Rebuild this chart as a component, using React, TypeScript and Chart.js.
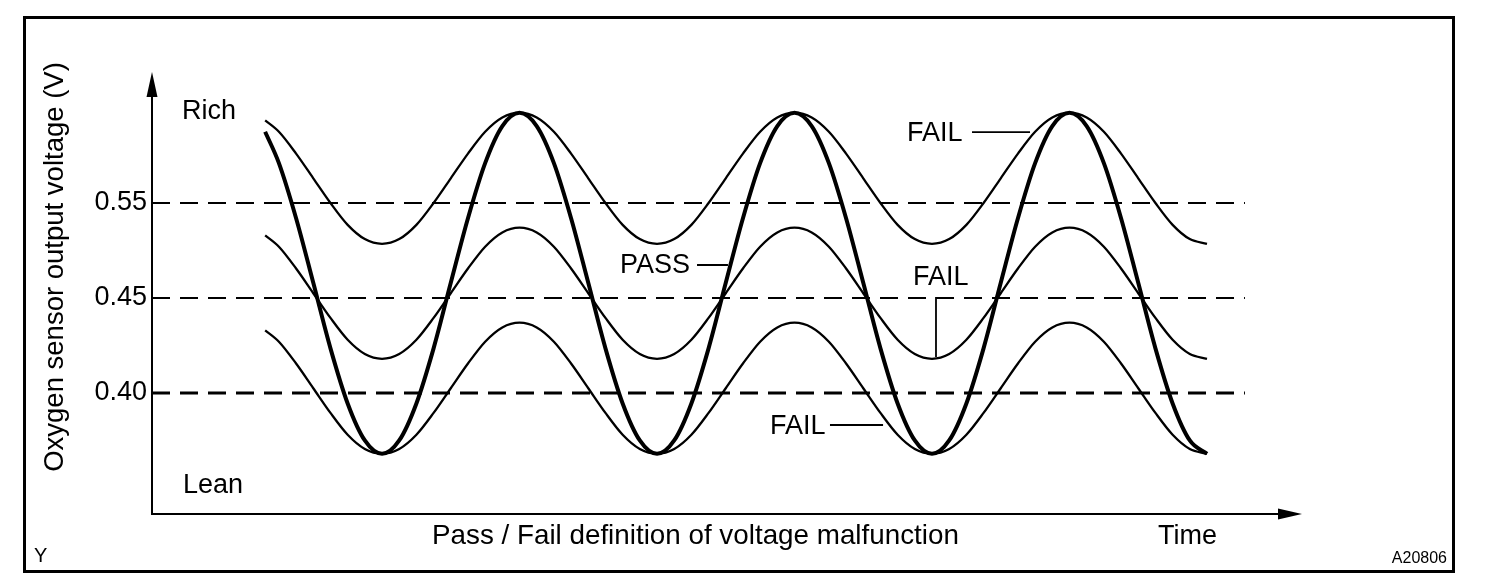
import React, { useEffect, useRef } from 'react';
import { Chart, registerables } from 'chart.js';

Chart.register(...registerables);

// Time axis in half-periods (0 = first lean trough)
const time = [
  -0.85, -0.75, -0.625, -0.5, -0.375, -0.25, -0.125, 0,
  0.125, 0.25, 0.375, 0.5, 0.625, 0.75, 0.875, 1, 1.125, 1.25, 1.375, 1.5, 1.625, 1.75, 1.875, 2,
  2.125, 2.25, 2.375, 2.5, 2.625, 2.75, 2.875, 3, 3.125, 3.25, 3.375, 3.5, 3.625, 3.75, 3.875, 4,
  4.125, 4.25, 4.375, 4.5, 4.625, 4.75, 4.875, 5, 5.125, 5.25, 5.375, 5.5, 5.625, 5.75, 5.875, 6,
];

// Sensor output, in axis "levels" (1 = 0.40 V, 2 = 0.45 V, 3 = 0.55 V)
const passCurve = [
  3.75, 3.42, 2.84, 2.16, 1.47, 0.89, 0.5, 0.36,
  0.5, 0.89, 1.47, 2.16, 2.84, 3.42, 3.81, 3.95, 3.81, 3.42, 2.84, 2.16, 1.47, 0.89, 0.5, 0.36,
  0.5, 0.89, 1.47, 2.16, 2.84, 3.42, 3.81, 3.95, 3.81, 3.42, 2.84, 2.16, 1.47, 0.89, 0.5, 0.36,
  0.5, 0.89, 1.47, 2.16, 2.84, 3.42, 3.81, 3.95, 3.81, 3.42, 2.84, 2.16, 1.47, 0.89, 0.5, 0.36,
];
const failRichCurve = [
  3.87, 3.75, 3.52, 3.26, 3.0, 2.77, 2.62, 2.57,
  2.62, 2.77, 3.0, 3.26, 3.52, 3.75, 3.9, 3.95, 3.9, 3.75, 3.52, 3.26, 3.0, 2.77, 2.62, 2.57,
  2.62, 2.77, 3.0, 3.26, 3.52, 3.75, 3.9, 3.95, 3.9, 3.75, 3.52, 3.26, 3.0, 2.77, 2.62, 2.57,
  2.62, 2.77, 3.0, 3.26, 3.52, 3.75, 3.9, 3.95, 3.9, 3.75, 3.52, 3.26, 3.0, 2.77, 2.62, 2.57,
];
const failMidCurve = [
  2.66, 2.54, 2.31, 2.05, 1.79, 1.56, 1.41, 1.36,
  1.41, 1.56, 1.79, 2.05, 2.31, 2.54, 2.69, 2.74, 2.69, 2.54, 2.31, 2.05, 1.79, 1.56, 1.41, 1.36,
  1.41, 1.56, 1.79, 2.05, 2.31, 2.54, 2.69, 2.74, 2.69, 2.54, 2.31, 2.05, 1.79, 1.56, 1.41, 1.36,
  1.41, 1.56, 1.79, 2.05, 2.31, 2.54, 2.69, 2.74, 2.69, 2.54, 2.31, 2.05, 1.79, 1.56, 1.41, 1.36,
];
const failLeanCurve = [
  1.66, 1.54, 1.31, 1.05, 0.79, 0.56, 0.41, 0.36,
  0.41, 0.56, 0.79, 1.05, 1.31, 1.54, 1.69, 1.74, 1.69, 1.54, 1.31, 1.05, 0.79, 0.56, 0.41, 0.36,
  0.41, 0.56, 0.79, 1.05, 1.31, 1.54, 1.69, 1.74, 1.69, 1.54, 1.31, 1.05, 0.79, 0.56, 0.41, 0.36,
  0.41, 0.56, 0.79, 1.05, 1.31, 1.54, 1.69, 1.74, 1.69, 1.54, 1.31, 1.05, 0.79, 0.56, 0.41, 0.36,
];

// Y tick levels and their voltage labels
const yTickLevels = [1, 2, 3];
const yTickLabels = ['0.40', '0.45', '0.55'];

// Threshold dashed lines span (time units)
const thresholdStart = -1.673;
const thresholdEnd = 6.276;

const yAxisTitle = 'Oxygen sensor output voltage (V)';
const xAxisTitle = 'Pass / Fail definition of voltage malfunction';

const FONT = '"Liberation Sans", Arial, Helvetica, sans-serif';

const decorPlugin = {
  id: 'decor',
  afterDraw(chart: any) {
    const { ctx, chartArea: a, scales } = chart;
    const xs = scales.x;
    const ys = scales.y;
    const px = (t: number) => xs.getPixelForValue(t);
    const py = (v: number) => ys.getPixelForValue(v);
    ctx.save();
    ctx.strokeStyle = '#000';
    ctx.fillStyle = '#000';

    // outer frame
    ctx.lineWidth = 3;
    ctx.strokeRect(24.5, 17.5, 1429, 554);

    // axes
    ctx.lineWidth = 2;
    ctx.beginPath();
    ctx.moveTo(a.left, a.top + 20);
    ctx.lineTo(a.left, a.bottom);
    ctx.lineTo(a.right - 20, a.bottom);
    ctx.stroke();
    // arrow heads
    ctx.beginPath();
    ctx.moveTo(a.left, a.top);
    ctx.lineTo(a.left - 5.5, a.top + 25);
    ctx.lineTo(a.left + 5.5, a.top + 25);
    ctx.closePath();
    ctx.fill();
    ctx.beginPath();
    ctx.moveTo(a.right, a.bottom);
    ctx.lineTo(a.right - 24, a.bottom - 5.5);
    ctx.lineTo(a.right - 24, a.bottom + 5.5);
    ctx.closePath();
    ctx.fill();

    // texts
    ctx.font = `27px ${FONT}`;
    ctx.textBaseline = 'alphabetic';
    ctx.textAlign = 'left';
    ctx.fillText('Rich', px(-1.4545), py(3.884));
    ctx.fillText('Lean', px(-1.447), py(-0.053));
    ctx.fillText('FAIL', px(3.818), py(3.653));
    ctx.fillText('PASS', px(1.731), py(2.263));
    ctx.fillText('FAIL', px(3.862), py(2.137));
    ctx.fillText('FAIL', px(2.822), py(0.568));
    ctx.fillText('Time', 1158, 544);

    ctx.font = `27.8px ${FONT}`;
    ctx.fillText(xAxisTitle, 432, 544);

    // leader lines
    ctx.lineWidth = 1.8;
    ctx.beginPath();
    ctx.moveTo(px(4.291), py(3.747));
    ctx.lineTo(px(4.713), py(3.747));
    ctx.moveTo(px(2.291), py(2.347));
    ctx.lineTo(px(2.516), py(2.347));
    ctx.moveTo(px(4.029), py(2.011));
    ctx.lineTo(px(4.029), py(1.379));
    ctx.moveTo(px(3.258), py(0.663));
    ctx.lineTo(px(3.644), py(0.663));
    ctx.stroke();

    // y axis title
    ctx.save();
    ctx.translate(63, 267);
    ctx.rotate(-Math.PI / 2);
    ctx.textAlign = 'center';
    ctx.font = `27.5px ${FONT}`;
    ctx.fillText(yAxisTitle, 0, 0);
    ctx.restore();

    // corner marks
    ctx.font = `20px ${FONT}`;
    ctx.textAlign = 'left';
    ctx.fillText('Y', 34, 562);
    ctx.font = `16px ${FONT}`;
    ctx.textAlign = 'right';
    ctx.fillText('A20806', 1447, 563);

    ctx.restore();
  },
};

export default function App() {
  const ref = useRef<HTMLCanvasElement | null>(null);

  useEffect(() => {
    if (!ref.current) return;
    const toPts = (arr: number[]) => time.map((t, i) => ({ x: t, y: arr[i] }));
    const thresholdDs = (lvl: number, w: number) => ({
      data: [
        { x: thresholdStart, y: lvl },
        { x: thresholdEnd, y: lvl },
      ],
      borderColor: '#000',
      borderWidth: w,
      borderDash: [18, 10],
      borderCapStyle: 'butt',
      pointRadius: 0,
      fill: false,
    });
    const curveDs = (arr: number[], w: number) => ({
      data: toPts(arr),
      borderColor: '#000',
      borderWidth: w,
      cubicInterpolationMode: 'monotone',
      pointRadius: 0,
      fill: false,
    });

    const chart = new Chart(ref.current, {
      type: 'line',
      data: {
        datasets: [
          thresholdDs(yTickLevels[0], 3),
          thresholdDs(yTickLevels[1], 2),
          thresholdDs(yTickLevels[2], 2),
          curveDs(failRichCurve, 2.3),
          curveDs(failMidCurve, 2.3),
          curveDs(failLeanCurve, 2.3),
          curveDs(passCurve, 4),
        ] as any,
      },
      options: {
        animation: false,
        responsive: false,
        devicePixelRatio: 1,
        layout: { padding: { left: 0, right: 202, top: 72, bottom: 72 } },
        plugins: { legend: { display: false }, tooltip: { enabled: false } },
        events: [],
        scales: {
          x: {
            type: 'linear',
            min: -1.673,
            max: 6.691,
            display: false,
          },
          y: {
            type: 'linear',
            min: -0.274,
            max: 4.379,
            grid: { display: false, drawTicks: false },
            border: { display: false },
            afterFit: (s: any) => {
              s.width = 152;
            },
            afterBuildTicks: (s: any) => {
              s.ticks = yTickLevels.map((v) => ({ value: v }));
            },
            ticks: {
              autoSkip: false,
              padding: 5,
              color: '#000',
              font: { size: 27, family: FONT },
              callback: (value: any) => {
                const i = yTickLevels.indexOf(Number(value));
                return i >= 0 ? yTickLabels[i] : '';
              },
            },
          },
        },
      },
      plugins: [decorPlugin],
    } as any);

    return () => chart.destroy();
  }, []);

  return (
    <div style={{ position: 'absolute', left: 0, top: 0, width: 1504, height: 586, background: '#fff' }}>
      <canvas ref={ref} width={1504} height={586} style={{ display: 'block', width: 1504, height: 586 }} />
    </div>
  );
}
